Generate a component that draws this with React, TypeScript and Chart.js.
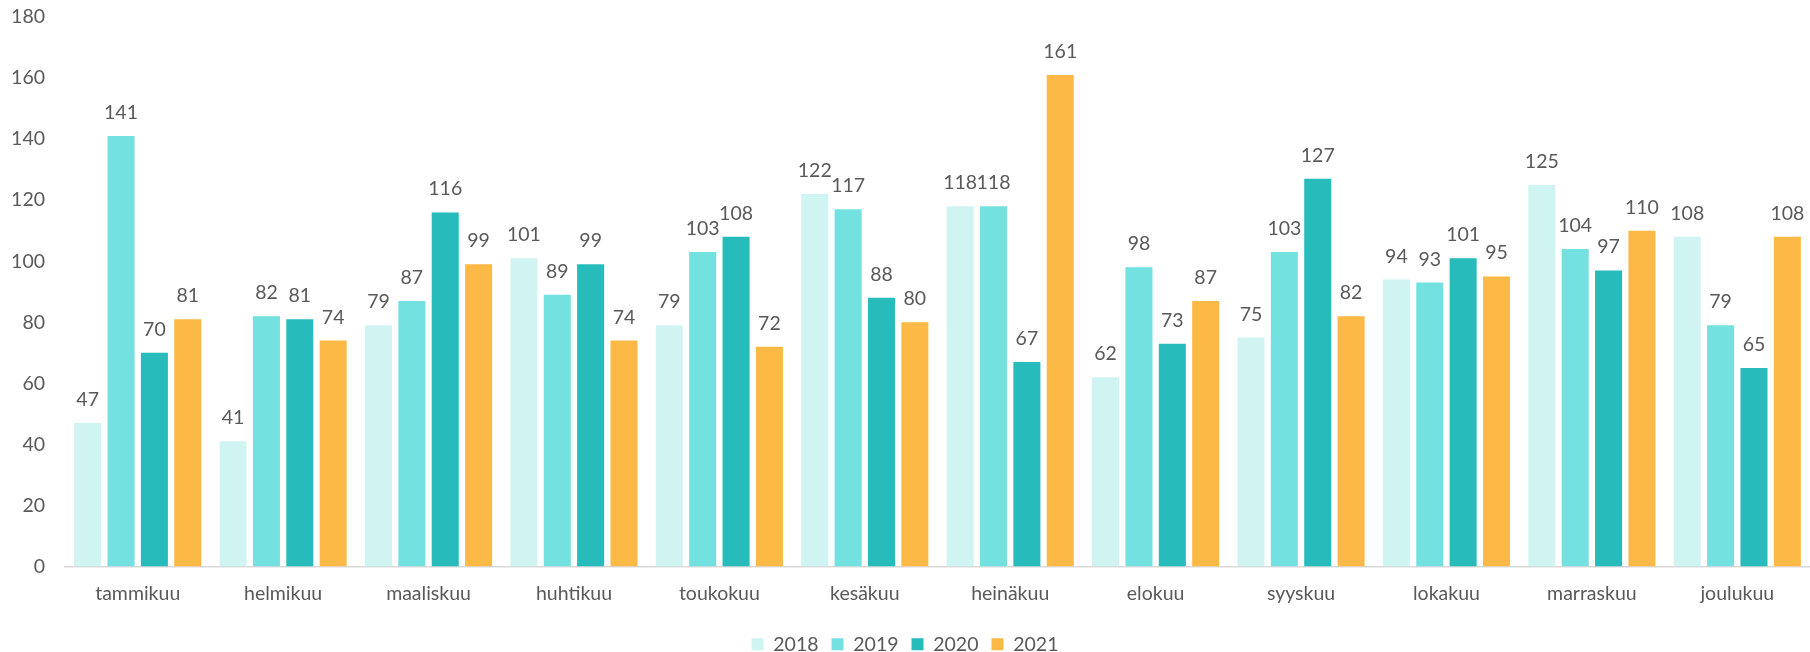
import React, { useEffect, useRef } from "react";
import { Chart, registerables } from "chart.js";

Chart.register(...registerables);

const months = [
  "tammikuu", "helmikuu", "maaliskuu", "huhtikuu", "toukokuu", "kesäkuu",
  "heinäkuu", "elokuu", "syyskuu", "lokakuu", "marraskuu", "joulukuu",
];
const values2018 = [47, 41, 79, 101, 79, 122, 118, 62, 75, 94, 125, 108];
const values2019 = [141, 82, 87, 89, 103, 117, 118, 98, 103, 93, 104, 79];
const values2020 = [70, 81, 116, 99, 108, 88, 67, 73, 127, 101, 97, 65];
const values2021 = [81, 74, 99, 74, 72, 80, 161, 87, 82, 95, 110, 108];
const seriesNames = ["2018", "2019", "2020", "2021"];
const seriesColors = ["#CFF4F2", "#74E1E1", "#27BBBB", "#FDB945"];

const TEXT = "#595959";
const FONT = "Lato, 'Open Sans', sans-serif";
const FS = 19.5;

const valueLabels = {
  id: "valueLabels",
  afterDatasetsDraw(chart: any) {
    const ctx = chart.ctx;
    ctx.save();
    ctx.fillStyle = TEXT;
    ctx.font = `${FS}px ${FONT}`;
    ctx.textAlign = "center";
    ctx.textBaseline = "alphabetic";
    chart.data.datasets.forEach((ds: any, i: number) => {
      const meta = chart.getDatasetMeta(i);
      meta.data.forEach((el: any, j: number) => {
        ctx.fillText(String(ds.data[j]), el.x, el.y - 17);
      });
    });
    ctx.restore();
  },
};

export default function App() {
  const ref = useRef<HTMLCanvasElement | null>(null);
  useEffect(() => {
    document.body.style.margin = "0";
    const all = [values2018, values2019, values2020, values2021];
    const chart = new Chart(ref.current!, {
      type: "bar",
      data: {
        labels: months,
        datasets: all.map((d, i) => ({
          label: seriesNames[i],
          data: d,
          backgroundColor: seriesColors[i],
          borderWidth: 0,
          categoryPercentage: 0.918,
          barPercentage: 0.81,
        })),
      },
      options: {
        responsive: false,
        animation: false,
        layout: { padding: { top: 17, right: 0, left: 0, bottom: 0 } },
        plugins: {
          tooltip: { enabled: false },
          legend: {
            position: "bottom",
            labels: {
              boxWidth: 12,
              boxHeight: 12,
              padding: 13,
              color: TEXT,
              font: { family: FONT, size: FS },
            },
          },
        },
        scales: {
          x: {
            grid: { display: false, drawTicks: false },
            border: { display: true, color: "#D9D9D9", width: 1.5 },
            ticks: {
              color: TEXT,
              font: { family: FONT, size: FS },
              padding: 16,
              maxRotation: 0,
            },
            afterFit: (s: any) => {
              s.height = 55;
            },
          },
          y: {
            min: 0,
            max: 180,
            grid: { display: false, drawTicks: false },
            border: { display: false },
            ticks: {
              stepSize: 20,
              color: TEXT,
              font: { family: FONT, size: FS },
              padding: 20,
            },
            afterFit: (s: any) => {
              s.width = 65;
              s.paddingTop = 0;
              s.paddingBottom = 0;
            },
          },
        },
      },
      plugins: [valueLabels],
    });
    return () => chart.destroy();
  }, []);
  return (
    <div style={{ position: "absolute", left: 0, top: 0, width: 1810, height: 652, overflow: "hidden" }}>
      <canvas ref={ref} width={1810} height={664} style={{ display: "block" }} />
    </div>
  );
}
